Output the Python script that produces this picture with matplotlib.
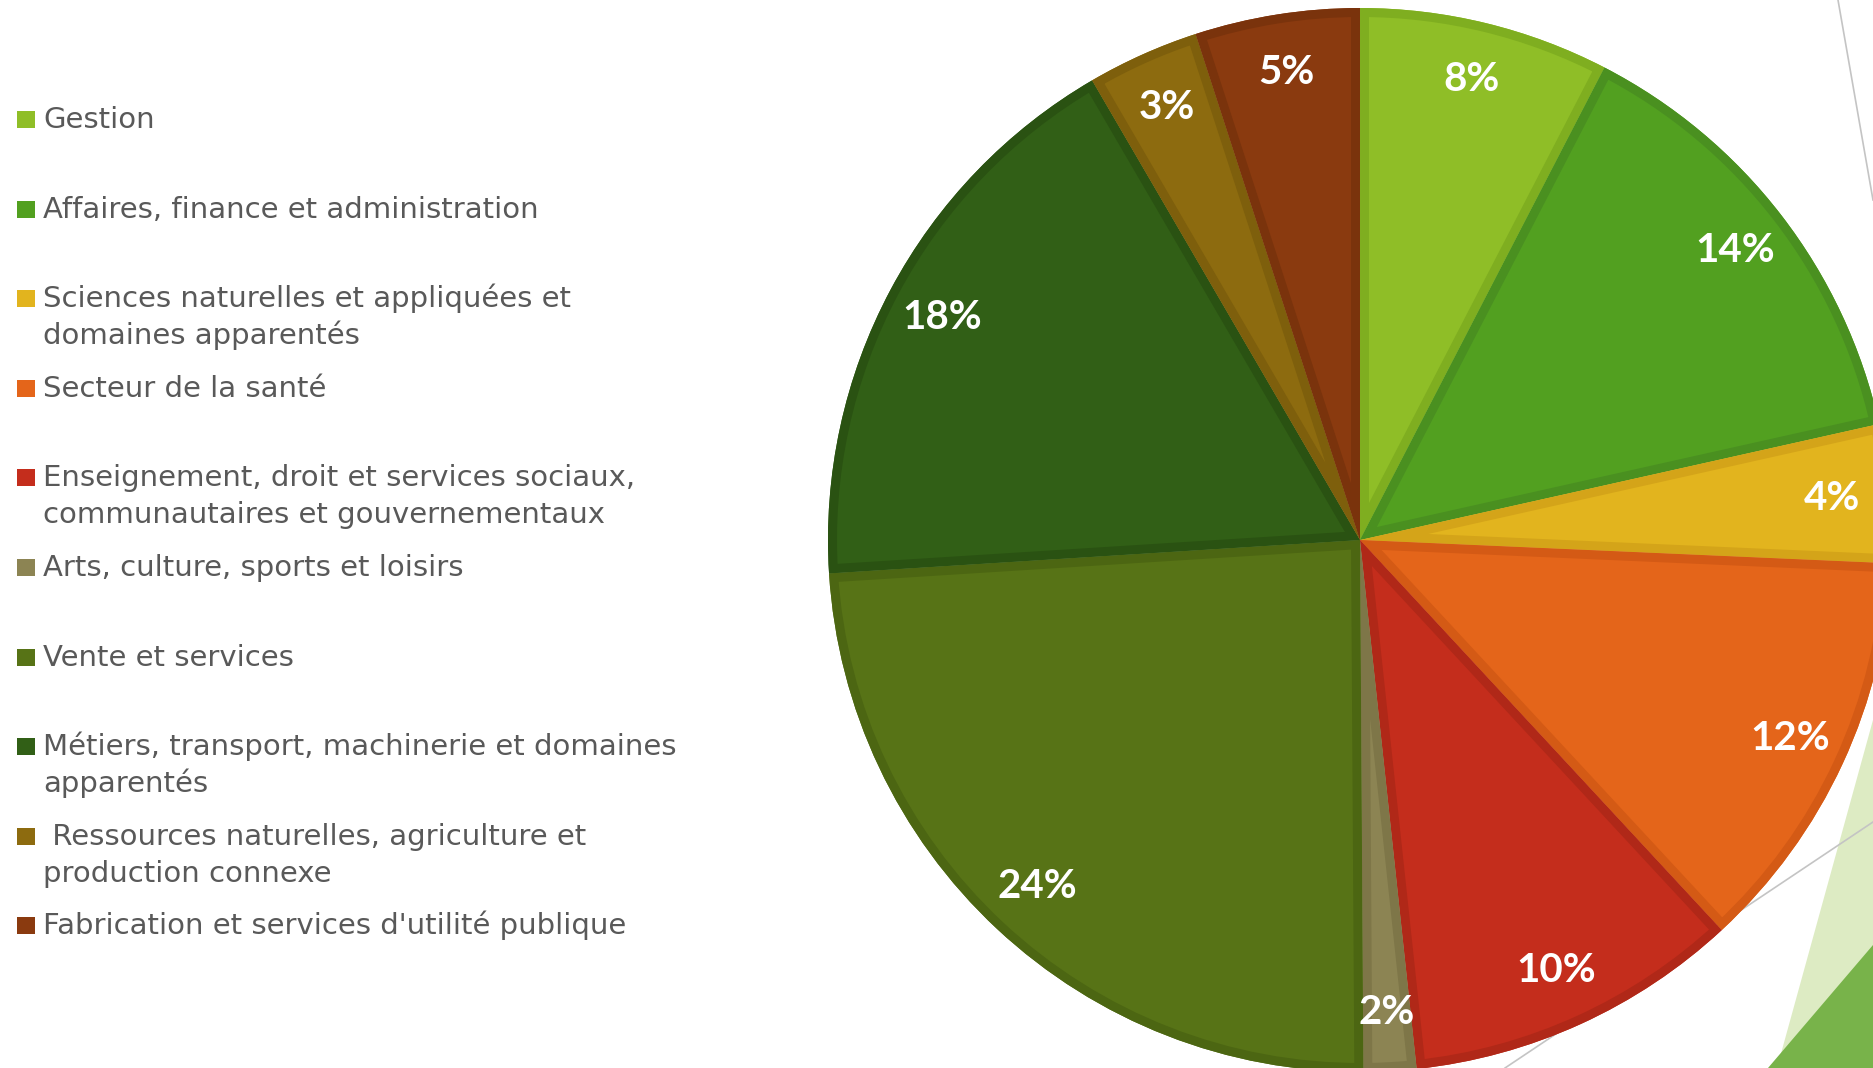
import matplotlib
matplotlib.use("Agg")
import matplotlib.pyplot as plt
from matplotlib.patches import Wedge, Rectangle, Polygon

# ---- data ----
categories = [
    "Gestion",
    "Affaires, finance et administration",
    "Sciences naturelles et appliquées et\ndomaines apparentés",
    "Secteur de la santé",
    "Enseignement, droit et services sociaux,\ncommunautaires et gouvernementaux",
    "Arts, culture, sports et loisirs",
    "Vente et services",
    "Métiers, transport, machinerie et domaines\napparentés",
    " Ressources naturelles, agriculture et\nproduction connexe",
    "Fabrication et services d'utilité publique",
]
# shares (%); labels show them rounded
values = [7.6, 13.9, 4.2, 12.4, 10.2, 1.6, 24.1, 17.6, 3.4, 5.0]
colors = ["#8FBE27", "#52A020", "#E2B41E", "#E4651A", "#C42D1C",
          "#8C8453", "#577316", "#315F16", "#8D6B0F", "#8A3A0F"]
borders = ["#7FAE20", "#4A9020", "#D4A419", "#D45A15", "#B02818",
           "#7E7648", "#4C6612", "#2A5212", "#7E5F0C", "#7A330C"]

W, H = 1873, 1068
fig = plt.figure(figsize=(W / 100, H / 100), dpi=100)
ax = fig.add_axes([0, 0, 1, 1])

def Y(y):
    return H - y

# background decorations
ax.add_patch(Polygon([(1873, Y(720)), (1777, Y(1068)), (1873, Y(1068))],
                     closed=True, facecolor="#DDEBC3", edgecolor="none", zorder=0))
ax.add_patch(Polygon([(1873, Y(945)), (1768, Y(1068)), (1873, Y(1068))],
                     closed=True, facecolor="#78B34A", edgecolor="none", zorder=0))
ax.plot([1838, 1873], [Y(0), Y(200)], color="#C4C4C4", lw=1.2, zorder=0)
ax.plot([1505, 1873], [Y(1068), Y(822)], color="#C4C4C4", lw=1.2, zorder=0)

cx, cy, R = 1360, Y(540), 532
wedges, texts, autotexts = ax.pie(
    values, colors=colors, startangle=90, counterclock=False,
    center=(cx, cy), radius=R, autopct=lambda p: f"{p:.0f}%",
    pctdistance=0.89, wedgeprops=dict(linewidth=0),
    textprops=dict(color="white", fontsize=29, fontweight="bold",
                   family=["Lato", "DejaVu Sans"]))
for w in wedges:
    w.set_zorder(2)
for t in autotexts:
    t.set_zorder(4)

border_px = 9
for w, bc in zip(wedges, borders):
    b = Wedge((cx, cy), R, w.theta1, w.theta2, facecolor="none",
              edgecolor=bc, linewidth=2 * border_px * 0.72, zorder=3)
    ax.add_patch(b)
    b.set_clip_path(w)

# legend
x_sq, x_txt = 17, 43
base0, step, lstep = 128, 89.6, 37
for i, (lab, col) in enumerate(zip(categories, colors)):
    b = base0 + i * step
    ax.add_patch(Rectangle((x_sq, Y(b)), 18, 17, facecolor=col,
                           edgecolor="none", zorder=5))
    for j, line in enumerate(lab.split("\n")):
        ax.text(x_txt, Y(b + j * lstep), line, fontsize=21, color="#595959",
                va="baseline", ha="left", family="DejaVu Sans", zorder=5)

ax.set_xlim(0, W)
ax.set_ylim(0, H)
ax.set_aspect("equal")
ax.axis("off")
fig.savefig("out.png", dpi=100)
